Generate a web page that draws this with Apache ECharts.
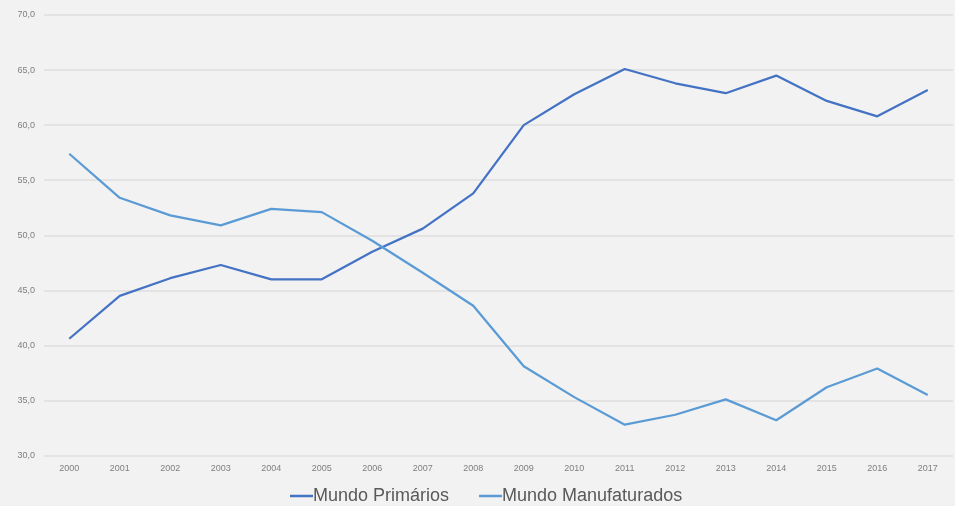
<!DOCTYPE html>
<html><head><meta charset="utf-8">
<script src="https://cdn.jsdelivr.net/npm/echarts@6/dist/echarts.min.js"></script>
<style>html,body{margin:0;padding:0;background:#f2f2f2;}#c{width:955px;height:506px;}</style>
</head><body><div id="c"></div>
<script>
const years = ['2000','2001','2002','2003','2004','2005','2006','2007','2008','2009','2010','2011','2012','2013','2014','2015','2016','2017'];
const primarios = [40.6,44.5,46.1,47.3,46.0,46.0,48.5,50.6,53.8,60.0,62.8,65.1,63.8,62.9,64.5,62.2,60.8,63.2];
const manufaturados = [57.4,53.4,51.8,50.9,52.4,52.1,49.5,46.6,43.6,38.1,35.3,32.8,33.7,35.1,33.2,36.2,37.9,35.5];
const seriesNames = ['Mundo Primários','Mundo Manufaturados'];

const chart = echarts.init(document.getElementById('c'));
chart.setOption({
  backgroundColor:'#f2f2f2',
  animation:false,
  textStyle:{fontFamily:'Liberation Sans, sans-serif'},
  grid:{left:44,right:2,top:15,bottom:50.5,containLabel:false},
  legend:{
    data:seriesNames, bottom:-4, left:285, icon:'rect', itemWidth:23, itemHeight:2.5, itemGap:30,
    textStyle:{color:'#595959',fontSize:18,padding:[0,0,0,-5]}
  },
  xAxis:{
    type:'category', data:years, boundaryGap:true,
    axisLine:{show:false}, axisTick:{show:false},
    axisLabel:{color:'#7f7f7f',fontSize:9,margin:9}
  },
  yAxis:{
    type:'value', min:30, max:70, interval:5,
    axisLine:{show:false}, axisTick:{show:false},
    axisLabel:{color:'#7f7f7f',fontSize:9,margin:9,formatter:v=>v.toFixed(1).replace('.',',')},
    splitLine:{lineStyle:{color:'#dedede',width:1.5}}
  },
  series:[
    {name:seriesNames[0],type:'line',data:primarios,symbol:'none',lineStyle:{color:'#4472C4',width:2.25},itemStyle:{color:'#4472C4'}},
    {name:seriesNames[1],type:'line',data:manufaturados,symbol:'none',lineStyle:{color:'#5B9BD5',width:2.25},itemStyle:{color:'#5B9BD5'}}
  ]
});
</script></body></html>
